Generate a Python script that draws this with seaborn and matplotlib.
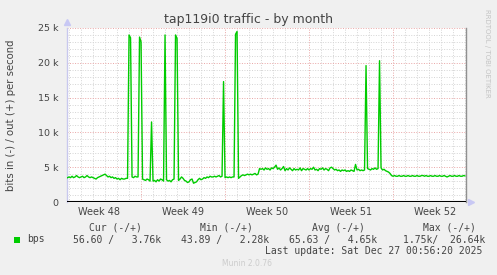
import matplotlib
matplotlib.use("Agg")
import matplotlib.pyplot as plt
import matplotlib.transforms as mtransforms
from matplotlib.ticker import FixedLocator
import seaborn as sns
import numpy as np
import pandas as pd

# ---------------- data (kbit/s "out", 3-hour samples, one row per day since week-48 start) -------------
out_k_by_day = [
    [3.5, 3.5, 3.4, 3.5, 3.6, 3.5, 3.4, 3.5],     # day 0
    [3.6, 3.5, 3.7, 3.5, 3.6, 3.8, 3.6, 3.5],
    [3.6, 3.7, 3.5, 3.6, 3.8, 3.6, 3.5, 3.6],
    [3.5, 3.4, 3.3, 3.5, 3.6, 3.7, 3.8, 3.9],
    [4.0, 3.8, 3.6, 3.7, 3.5, 3.6, 3.4, 3.5],
    [3.3, 3.4, 3.2, 3.4, 3.3, 3.3, 3.4, 3.4],
    [24.0, 23.6, 3.6, 3.5, 3.7, 3.6, 3.6, 23.7],
    [23.0, 3.3, 3.2, 3.1, 3.3, 3.2, 3.0, 11.5],
    [3.0, 3.1, 2.9, 3.2, 3.0, 3.3, 3.2, 3.0],
    [24.0, 3.2, 3.0, 3.1, 2.9, 3.2, 3.3, 24.0],
    [23.5, 3.1, 3.3, 3.6, 3.4, 3.1, 3.0, 2.8],
    [2.9, 3.2, 3.3, 2.7, 2.8, 2.9, 3.2, 3.4],
    [3.2, 3.3, 3.5, 3.4, 3.6, 3.5, 3.7, 3.6],
    [3.6, 3.7, 3.6, 3.7, 3.8, 3.6, 3.7, 17.3],
    [3.5, 3.6, 3.5, 3.6, 3.5, 3.6, 3.6, 24.1],
    [24.5, 3.4, 3.6, 3.8, 3.9, 3.8, 3.9, 4.0],
    [3.9, 4.0, 3.9, 4.0, 4.1, 3.9, 4.0, 4.8],
    [4.7, 4.8, 4.6, 4.9, 4.7, 4.8, 4.6, 4.9],
    [4.8, 5.0, 5.3, 4.7, 4.9, 4.6, 4.8, 5.1],
    [4.5, 4.8, 4.6, 4.9, 4.7, 4.5, 4.8, 4.6],
    [4.7, 4.6, 4.9, 4.5, 4.8, 4.7, 4.6, 4.8],
    [4.6, 4.8, 4.7, 5.0, 4.6, 4.7, 4.5, 4.8],
    [4.7, 4.9, 4.6, 4.8, 4.7, 4.5, 4.9, 5.0],
    [4.8, 4.6, 4.7, 4.5, 4.6, 4.4, 4.6, 4.5],
    [4.6, 4.4, 4.5, 4.4, 4.6, 4.5, 4.4, 5.4],
    [4.6, 4.7, 4.5, 4.6, 4.5, 4.6, 19.6, 4.8],
    [4.7, 4.6, 4.8, 4.7, 4.9, 4.7, 4.8, 20.3],
    [4.9, 4.6, 4.7, 4.5, 4.4, 4.3, 4.1, 3.8],
    [3.7, 3.8, 3.7, 3.7, 3.8, 3.7, 3.7, 3.8],
    [3.7, 3.7, 3.8, 3.7, 3.7, 3.8, 3.7, 3.7],
    [3.8, 3.7, 3.7, 3.8, 3.8, 3.7, 3.8, 3.7],
    [3.7, 3.8, 3.7, 3.7, 3.8, 3.7, 3.7, 3.8],
    [3.7, 3.7, 3.8, 3.7, 3.6, 3.7, 3.8, 3.7],
    [3.7, 3.8, 3.7, 3.7, 3.8, 3.7, 3.7, 3.8],
    [3.75],                                        # day 34
]

week_bounds = [0, 7, 14, 21, 28]
week_labels = ["Week 48", "Week 49", "Week 50", "Week 51", "Week 52"]
y_major = [0, 5000, 10000, 15000, 20000, 25000]
y_labels = ["0", "5 k", "10 k", "15 k", "20 k", "25 k"]
x_view = [0.83, 34.08]

legend_headers = ["Cur (-/+)", "Min (-/+)", "Avg (-/+)", "Max (-/+)"]
legend_values = ["56.60 /   3.76k", "43.89 /   2.28k", "65.63 /   4.65k", "1.75k/  26.64k"]
series_name = "bps"
title = "tap119i0 traffic - by month"
ylabel = "bits in (-) / out (+) per second"
last_update = "Last update: Sat Dec 27 00:56:20 2025"
munin_ver = "Munin 2.0.76"
side_text = "RRDTOOL / TOBI OETIKER"

# ---------------- build frame -------------
rows = []
for d, vals in enumerate(out_k_by_day):
    for s, v in enumerate(vals):
        rows.append((d + s / len(out_k_by_day[0]), v * 1000.0))
df = pd.DataFrame(rows, columns=["day", "bps"])

# ---------------- style -------------
sns.set_style("white")
plt.rcParams["font.family"] = ["DejaVu Sans"]

W, H = 497, 275
fig = plt.figure(figsize=(W / 100, H / 100), dpi=100)
fig.patch.set_facecolor("#F0F0F0")

def fx(px):
    return px / W

def fy(py):
    return 1 - py / H

ax = fig.add_axes([fx(67), fy(202), fx(466) - fx(67), fy(28) - fy(202)])
ax.set_facecolor("white")

green = "#00CC00"
sns.lineplot(data=df, x="day", y="bps", ax=ax, color=green, lw=1.0, zorder=5)

ax.set_xlim(*x_view)
ax.set_ylim(0, 25000)

# grid
ax.xaxis.set_major_locator(FixedLocator(week_bounds))
ax.xaxis.set_minor_locator(FixedLocator(list(range(0, 35))))
ax.yaxis.set_major_locator(FixedLocator(y_major))
ax.yaxis.set_minor_locator(FixedLocator(list(range(0, 25001, 1000))))
ax.set_yticklabels(y_labels)
ax.set_xticklabels([""] * len(week_bounds))

ax.grid(which="minor", color="#d4d4d4", lw=0.7, ls=(0, (1, 1.6)), zorder=0)
ax.grid(which="major", color="#e9a6a6", lw=0.7, ls=(0, (1, 1.6)), zorder=1)
ax.set_axisbelow(True)

ax.tick_params(axis="x", which="major", length=2.5, color="#e08080", width=0.8, labelsize=7, pad=1)
ax.tick_params(axis="x", which="minor", length=0)
ax.tick_params(axis="y", which="major", length=2, color="#e08080", width=0.8, labelsize=6.8,
               labelcolor="#444444", pad=4)
ax.tick_params(axis="y", which="minor", length=0)

for sp in ["top"]:
    ax.spines[sp].set_visible(False)
ax.spines["left"].set_color("#c8c8ee")
ax.spines["left"].set_linewidth(1.0)
ax.spines["right"].set_color("#909090")
ax.spines["right"].set_linewidth(1.0)
ax.spines["bottom"].set_visible(False)

ax.axhline(0, color="black", lw=1.5, zorder=6)

# axis arrows
ax.plot([0], [1.035], marker="^", ms=4, color="#c8c8f4", transform=ax.transAxes, clip_on=False)
ax.plot([1.012], [0], marker=">", ms=4, color="#c8c8f4", transform=ax.transAxes, clip_on=False)

# week labels
trans = mtransforms.blended_transform_factory(ax.transData, fig.transFigure)
for b, lab in zip(week_bounds, week_labels):
    ax.text(b + 3.5, fy(212), lab, transform=trans, ha="center", va="center",
            fontsize=7, color="#444444", clip_on=False)

ax.set_xlabel("")
ax.set_ylabel("")

# title & labels
fig.text(fx(248), fy(19), title, ha="center", va="center", fontsize=9, color="#444444")
fig.text(fx(11), fy(115), ylabel, ha="center", va="center", rotation=90, fontsize=7.3, color="#444444")
fig.text(fx(487), fy(53), side_text, ha="center", va="center", rotation=270, fontsize=5.0, color="#c4c4c4")

# legend block
mono = "DejaVu Sans Mono"
hdr_x = [89.3, 200, 311.7, 422.7]
val_x = [72.7, 181, 289, 403.3]
for x, t in zip(hdr_x, legend_headers):
    fig.text(fx(x), fy(228), t, ha="left", va="center", fontsize=7, family=mono, color="#444444")
for x, t in zip(val_x, legend_values):
    fig.text(fx(x), fy(239.5), t, ha="left", va="center", fontsize=7, family=mono, color="#444444")
fig.text(fx(27), fy(239.5), series_name, ha="left", va="center", fontsize=7, family=mono, color="#444444")
fig.patches.append(plt.Rectangle((fx(14), fy(242.5)), fx(5.5), fy(237) - fy(242.5),
                                 transform=fig.transFigure, facecolor=green, edgecolor="none"))
fig.text(fx(482.5), fy(251), last_update, ha="right", va="center", fontsize=7, family=mono, color="#444444")
fig.text(fx(247.5), fy(264), munin_ver, ha="center", va="center", fontsize=5.5, color="#cccccc")

fig.savefig("out.png", dpi=100, facecolor=fig.get_facecolor())
